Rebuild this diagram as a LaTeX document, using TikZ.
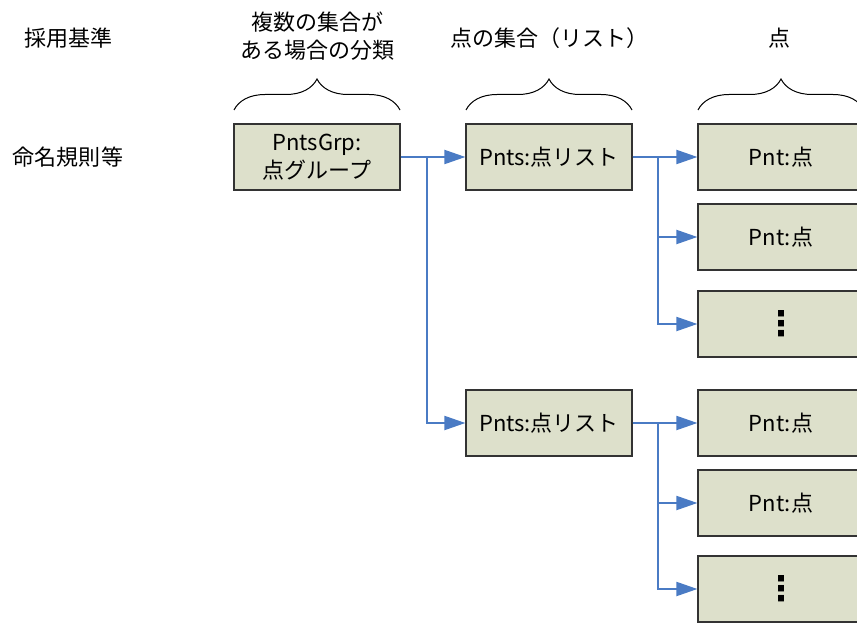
\documentclass[tikz,border=0pt]{standalone}
\usepackage{fontspec}
\setmainfont{Noto Sans CJK JP}
\newfontfamily\dotsfont{DejaVu Sans}
\usetikzlibrary{arrows.meta,decorations.pathreplacing}

\definecolor{boxfill}{HTML}{DDE0CB}
\definecolor{linkblue}{HTML}{4A7BC4}

\begin{document}
\begin{tikzpicture}[x=1bp,y=-1bp]
        \tikzset{BoxStyle/.style={draw=black!80, fill=boxfill, line width=1.2bp,
            minimum width=166bp, minimum height=66bp, inner sep=0pt,
            align=center, font=\fontsize{22bp}{28bp}\selectfont}}
        \tikzset{LabelStyle/.style={align=center, inner sep=0pt,
            font=\fontsize{22bp}{28bp}\selectfont}}
        \tikzset{LinkStyle/.style={draw=linkblue, line width=2bp,
            -{Triangle[length=21bp,width=14bp]}}}
        \tikzset{BraceStyle/.style={draw=black, line width=1bp, decorate,
            decoration={brace, amplitude=31bp}}}
        \useasboundingbox (0,0) rectangle (857,623);

        % column headings
        \node[LabelStyle] (hdrRule) at (68,38) {採用基準};
        \node[LabelStyle] (hdrGrp) at (317,36) {複数の集合が\\ある場合の分類};
        \node[LabelStyle] (hdrList) at (549,38) {点の集合（リスト）};
        \node[LabelStyle] (hdrPnt) at (779,38) {点};
        \node[LabelStyle] (rowName) at (68,157) {命名規則等};

        \foreach \xa/\xb in {234/400, 466/632, 698/864}
          \draw[BraceStyle] (\xa,110) -- (\xb,110);

        % boxes
        \node[BoxStyle] (grp) at (317,157) {PntsGrp:\\点グループ};
        \node[BoxStyle] (lstA) at (549,157) {Pnts:点リスト};
        \node[BoxStyle] (lstB) at (549,423) {Pnts:点リスト};
        \node[BoxStyle] (pntA1) at (781,157) {Pnt:点};
        \node[BoxStyle] (pntA2) at (781,237) {Pnt:点};
        \node[BoxStyle] (pntA3) at (781,324) {\dotsfont\bfseries\fontsize{34bp}{34bp}\selectfont ⋮};
        \node[BoxStyle] (pntB1) at (781,423) {Pnt:点};
        \node[BoxStyle] (pntB2) at (781,503) {Pnt:点};
        \node[BoxStyle] (pntB3) at (781,589) {\dotsfont\bfseries\fontsize{34bp}{34bp}\selectfont ⋮};

        % links
        \foreach \to in {lstA, lstB}
          \draw[LinkStyle] (grp.east) -- ++(26,0) |- (\to.west);
        \foreach \to in {pntA1, pntA2, pntA3}
          \draw[LinkStyle] (lstA.east) -- ++(25,0) |- (\to.west);
        \foreach \to in {pntB1, pntB2, pntB3}
          \draw[LinkStyle] (lstB.east) -- ++(25,0) |- (\to.west);
\end{tikzpicture}
\end{document}
